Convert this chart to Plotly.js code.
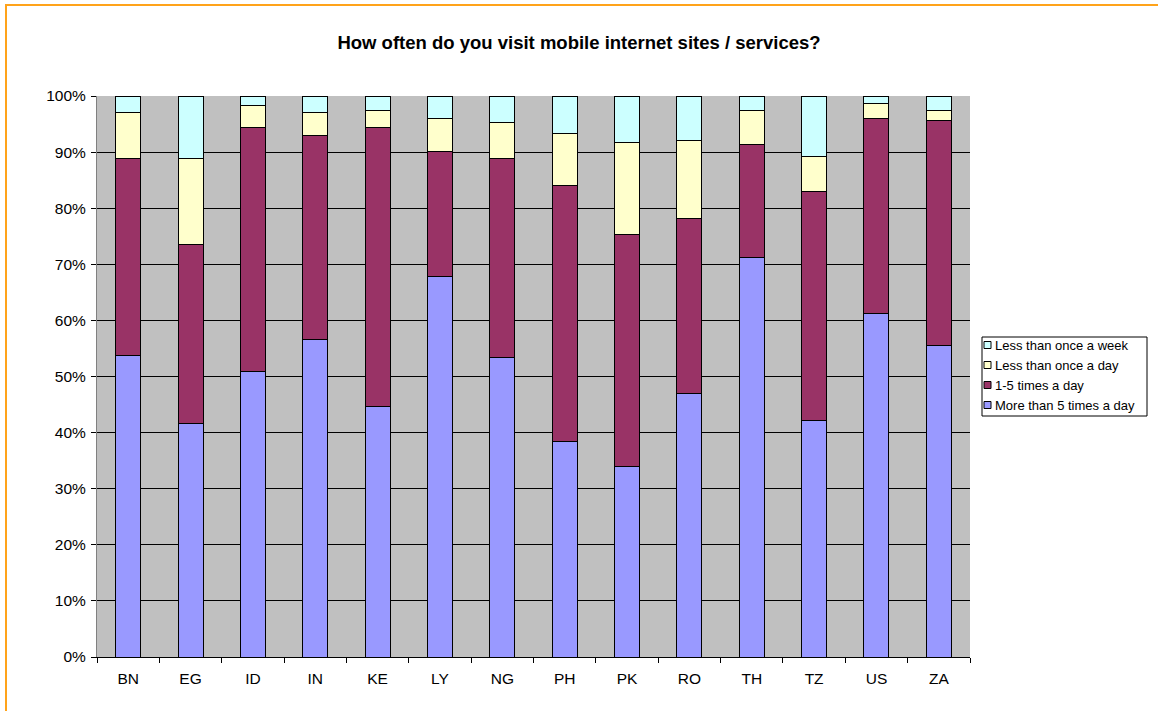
<!DOCTYPE html>
<html>
<head>
<meta charset="utf-8">
<script src="https://cdn.plot.ly/plotly-3.0.1.min.js"></script>
<style>
  html, body { margin: 0; padding: 0; background: #fff; }
  #chart { width: 1158px; height: 711px; }
  #frame { position: absolute; left: 5px; top: 4px; width: 1200px; height: 800px;
           border-left: 2px solid #FFA31A; border-top: 2px solid #FFA31A; pointer-events: none; }
</style>
</head>
<body>
<div id="chart"></div>
<div id="frame"></div>
<script>
const countries = ["BN","EG","ID","IN","KE","LY","NG","PH","PK","RO","TH","TZ","US","ZA"];
const moreThan5   = [53.8, 41.7, 50.9, 56.6, 44.7, 67.8, 53.4, 38.5, 33.9, 47.0, 71.2, 42.2, 61.2, 55.5];
const oneToFive   = [35.0, 31.9, 43.4, 36.3, 49.7, 22.3, 35.4, 45.5, 41.5, 31.1, 20.1, 40.8, 34.8, 40.2];
const lessDay     = [ 8.2, 15.2,  4.0,  4.1,  3.0,  5.9,  6.4,  9.4, 16.4, 13.9,  6.2,  6.2,  2.6,  1.7];
const lessWeek    = [ 3.0, 11.2,  1.7,  3.0,  2.6,  4.0,  4.8,  6.6,  8.2,  8.0,  2.5, 10.8,  1.4,  2.6];
const seriesNames = ["More than 5 times a day","1-5 times a day","Less than once a day","Less than once a week"];
const seriesColors = ["#9999FF","#993366","#FFFFCC","#CCFFFF"];
const seriesData = [moreThan5, oneToFive, lessDay, lessWeek];

const traces = seriesData.map((vals, i) => ({
  type: "bar",
  name: seriesNames[i],
  x: countries,
  y: vals.map(v => v / 100),
  marker: { color: seriesColors[i], line: { color: "#000000", width: 1 } },
  hoverinfo: "x+y+name"
}));

const W = 1158, H = 711, L = 97, R = 188, T = 96, B = 54;
const px = x => (x - L) / (W - L - R);
const py = y => 1 - (y - T) / (H - T - B);

// Custom legend (top entry = last series)
const shapes = [{
  type: "rect", xref: "paper", yref: "paper",
  x0: px(982), x1: px(1147), y0: py(337), y1: py(416),
  line: { color: "#000", width: 1 }, fillcolor: "#FFFFFF", layer: "above"
}];
const annotations = [];
const rowY = [345, 365, 385, 405];
for (let k = 0; k < seriesNames.length; k++) {
  const i = seriesNames.length - 1 - k;
  const yc = rowY[k];
  shapes.push({
    type: "rect", xref: "paper", yref: "paper",
    x0: px(984), x1: px(991), y0: py(yc - 3.5), y1: py(yc + 3.5),
    line: { color: "#000", width: 1 }, fillcolor: seriesColors[i], layer: "above"
  });
  annotations.push({
    xref: "paper", yref: "paper", x: px(993), y: py(yc),
    xanchor: "left", yanchor: "middle", showarrow: false,
    text: seriesNames[i], font: { size: 13, color: "#000" }
  });
}

const layout = {
  width: W, height: H,
  paper_bgcolor: "#FFFFFF",
  plot_bgcolor: "#C0C0C0",
  barmode: "stack",
  bargap: 0.6,
  font: { family: "Liberation Sans, Arial, sans-serif", size: 12, color: "#000" },
  title: { text: "<b>How often do you visit mobile internet sites / services?</b>",
           x: 0.5, xanchor: "center", y: 1 - 43/711, yanchor: "middle",
           font: { size: 18.5, family: "Liberation Sans, Arial, sans-serif", color: "#000" } },
  margin: { l: L, r: R, t: T, b: B, autoexpand: false },
  xaxis: {
    type: "category",
    tickson: "boundaries",
    ticks: "outside", ticklen: 5, tickcolor: "#000",
    ticklabelstandoff: 7,
    showline: true, linecolor: "#000", linewidth: 1,
    showgrid: false,
    tickfont: { size: 15.5 },
    fixedrange: true
  },
  yaxis: {
    range: [0, 1],
    tickvals: [0,0.1,0.2,0.3,0.4,0.5,0.6,0.7,0.8,0.9,1],
    tickformat: ".0%",
    ticks: "outside", ticklen: 5, tickcolor: "#000",
    ticklabelstandoff: 2,
    showline: true, linecolor: "#808080", linewidth: 1,
    showgrid: true, gridcolor: "#000000", gridwidth: 1,
    zeroline: false,
    tickfont: { size: 15.5 },
    fixedrange: true
  },
  showlegend: false,
  shapes: shapes,
  annotations: annotations
};

Plotly.newPlot("chart", traces, layout, { displayModeBar: false, staticPlot: true });
</script>
</body>
</html>
